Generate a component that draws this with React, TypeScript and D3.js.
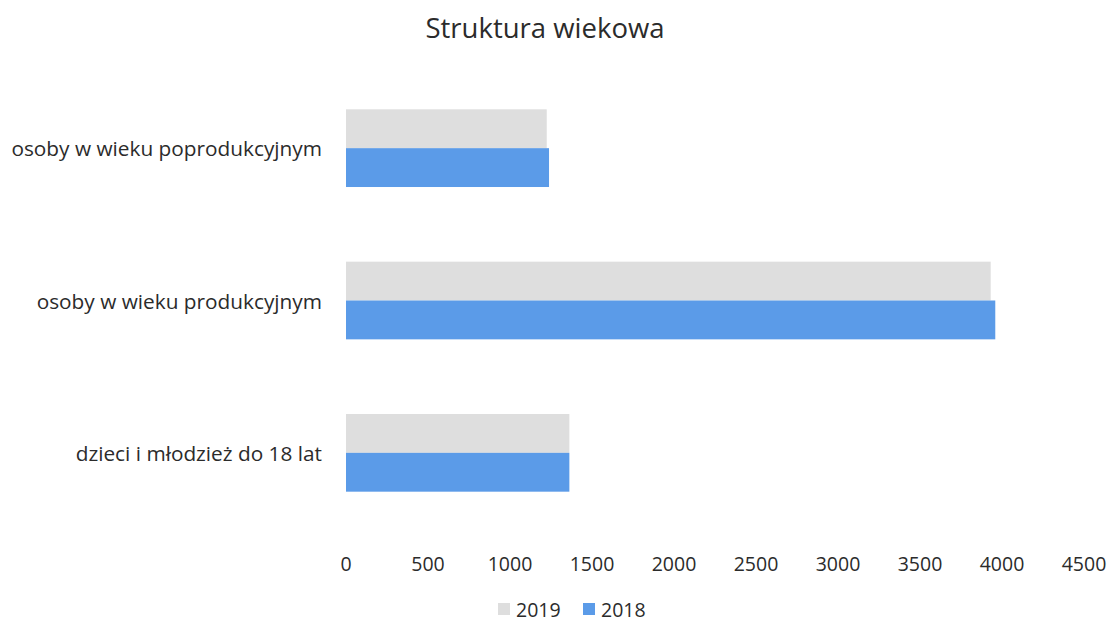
import React from "react";
import * as d3 from "d3";

const categories = [
  "osoby w wieku poprodukcyjnym",
  "osoby w wieku produkcyjnym",
  "dzieci i młodzież do 18 lat",
];
const series2019 = [1224, 3931, 1362];
const series2018 = [1238, 3959, 1362];
const seriesNames = ["2019", "2018"];
const xTicks = [0, 500, 1000, 1500, 2000, 2500, 3000, 3500, 4000, 4500];
const title = "Struktura wiekowa";

const W = 1111;
const H = 621;
const FONT = "'Open Sans', sans-serif";
const colors = ["#dedede", "#5b9be8"];
const textColor = "#2b2b2b";

export default function App() {
  const x = d3.scaleLinear().domain([0, 4500]).range([346, 1084]);
  const y = d3
    .scaleBand<string>()
    .domain(categories)
    .range([72, 529])
    .paddingInner(0.49)
    .paddingOuter(0.245);
  const sub = d3
    .scaleBand<string>()
    .domain(seriesNames)
    .range([0, y.bandwidth()]);
  const data = [series2019, series2018];

  return (
    <svg
      width={W}
      height={H}
      style={{ position: "absolute", left: 0, top: 0, background: "#fff" }}
      fontFamily={FONT}
    >
      <rect x={0} y={0} width={W} height={H} fill="#fff" />
      <text
        x={545}
        y={38}
        textAnchor="middle"
        fontSize={27.5}
        fill={textColor}
      >
        {title}
      </text>
      {categories.map((c, i) => (
        <g key={c}>
          {seriesNames.map((s, j) => (
            <rect
              key={s}
              x={x(0)}
              y={(y(c) ?? 0) + (sub(s) ?? 0)}
              width={x(data[j][i]) - x(0)}
              height={sub.bandwidth()}
              fill={colors[j]}
            />
          ))}
          <text
            x={322}
            y={(y(c) ?? 0) + y.bandwidth() / 2}
            textAnchor="end"
            dominantBaseline="central"
            fontSize={20.8}
            fill={textColor}
          >
            {c}
          </text>
        </g>
      ))}
      {xTicks.map((t) => (
        <text
          key={t}
          x={x(t)}
          y={563}
          textAnchor="middle"
          dominantBaseline="central"
          fontSize={19.5}
          fill={textColor}
        >
          {t}
        </text>
      ))}
      <g>
        {seriesNames.map((s, j) => {
          const lx = j === 0 ? 498 : 583;
          return (
            <g key={s}>
              <rect x={lx} y={603} width={12} height={12} fill={colors[j]} />
              <text
                x={lx + 18}
                y={609}
                dominantBaseline="central"
                fontSize={19.5}
                fill={textColor}
              >
                {s}
              </text>
            </g>
          );
        })}
      </g>
    </svg>
  );
}
